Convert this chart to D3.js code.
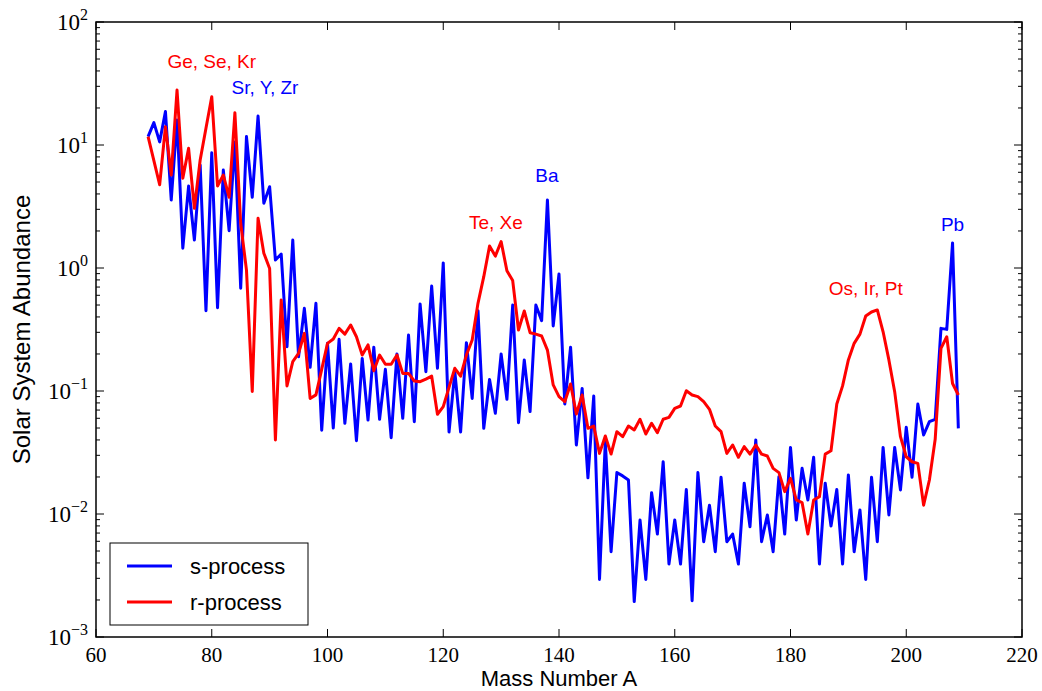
<!DOCTYPE html>
<html><head><meta charset="utf-8">
<script src="https://cdn.jsdelivr.net/npm/d3@7"></script>
<style>body{margin:0;background:#fff}</style>
</head><body><svg id="c" width="1042" height="691"></svg>
<script>
const massNumbers = [69,70,71,72,73,74,75,76,77,78,79,80,81,82,83,84,85,86,87,88,89,90,91,92,93,94,95,96,97,98,99,100,
101,102,103,104,105,106,107,108,109,110,111,112,113,114,115,116,117,118,119,120,121,122,123,124,125,126,127,128,129,130,
131,132,133,134,135,136,137,138,139,140,141,142,143,144,145,146,147,148,149,150,151,152,153,154,155,156,157,158,159,160,
161,162,163,164,165,166,167,168,169,170,171,172,173,174,175,176,177,178,179,180,181,182,183,184,185,186,187,188,189,190,
191,192,193,194,195,196,197,198,199,200,201,202,203,204,205,206,207,208,209];

const sProcess = [11.7,15.2,10.6,18.7,3.57,16.0,1.45,4.64,1.69,6.88,0.45,8.66,0.475,6.26,2.01,10.6,0.684,11.7,3.76,17.2,3.36,4.58,1.16,1.30,0.229,1.69,0.190,0.47,0.156,0.516,0.048,0.244,
0.050,0.263,0.0546,0.166,0.0394,0.184,0.058,0.227,0.0589,0.150,0.0417,0.200,0.060,0.285,0.0563,0.51,0.1435,0.714,0.153,1.10,0.0464,0.1435,0.0464,0.247,0.087,0.45,0.0497,0.124,0.0658,0.200,
0.0856,0.50,0.0553,0.179,0.068,0.50,0.373,3.57,0.338,0.894,0.0784,0.227,0.0364,0.105,0.0197,0.091,0.00294,0.0387,0.00494,0.0217,0.0204,0.0189,0.00194,0.00894,0.00294,0.0149,0.00687,0.0266,0.00392,0.00894,
0.00392,0.0158,0.00197,0.0217,0.00595,0.0118,0.00494,0.0199,0.00595,0.00687,0.00392,0.0178,0.00788,0.040,0.00595,0.00982,0.00494,0.0201,0.00687,0.0348,0.00894,0.0235,0.013,0.0289,0.00392,0.0178,0.00798,0.0158,0.00392,0.0208,
0.00494,0.0108,0.00294,0.0199,0.00595,0.0348,0.00982,0.0348,0.0157,0.0507,0.0199,0.0784,0.0439,0.0563,0.0589,0.323,0.317,1.6,0.0497];

const rProcess = [11.7,7.45,4.75,14.1,5.7,28,5.36,9.4,3.06,7.55,13.7,24.7,4.64,5.7,3.76,18.3,2.31,0.96,0.099,2.54,1.32,0.99,0.040,0.55,0.11,0.173,0.202,0.294,0.087,0.093,0.15,0.244,
0.265,0.323,0.29,0.344,0.276,0.196,0.237,0.146,0.196,0.165,0.165,0.196,0.139,0.139,0.1206,0.119,0.125,0.132,0.0646,0.0746,0.107,0.153,0.132,0.196,0.26,0.516,0.85,1.51,1.25,1.64,
0.95,0.79,0.313,0.447,0.298,0.29,0.28,0.215,0.112,0.090,0.0819,0.114,0.065,0.0928,0.0497,0.0519,0.0311,0.0431,0.0307,0.0467,0.0425,0.0519,0.0482,0.0589,0.0447,0.0546,0.0458,0.0589,0.0611,0.0723,
0.0755,0.1006,0.0928,0.090,0.0819,0.071,0.0519,0.0467,0.0311,0.0364,0.0289,0.0353,0.0307,0.0364,0.0307,0.0296,0.0235,0.0217,0.0152,0.0195,0.013,0.0124,0.00687,0.013,0.0138,0.0307,0.0327,0.0784,0.11,0.179,
0.244,0.29,0.407,0.439,0.456,0.303,0.179,0.0988,0.0425,0.0292,0.0266,0.0258,0.0118,0.0189,0.0405,0.222,0.276,0.115,0.0928];

const xTicks = [60,80,100,120,140,160,180,200,220];
const yTicks = [1e-3,1e-2,1e-1,1e0,1e1,1e2];
const yTickExponents = ["\u22123","\u22122","\u22121","0","1","2"];

const seriesNames = ["s-process","r-process"];
const seriesColors = ["#0000ff","#ff0000"];

const annotLabels = ["Ge, Se, Kr","Sr, Y, Zr","Ba","Te, Xe","Os, Ir, Pt","Pb"];
const annotA = [80.0, 89.2, 137.9, 129.1, 193.0, 208.0];
const annotValue = [42, 26, 5.0, 2.07, 0.60, 2.0];
const annotColors = ["#ff0000","#0000ff","#0000ff","#ff0000","#ff0000","#0000ff"];

const W = 1042, H = 691;
const L = 96, R = 1022, T = 22, B = 637;
const svg = d3.select("#c");

const x = d3.scaleLinear().domain([60,220]).range([L,R]);
const y = d3.scaleLog().domain([1e-3,1e2]).range([B,T]);

svg.append("defs").append("clipPath").attr("id","clip")
  .append("rect").attr("x",L).attr("y",T).attr("width",R-L).attr("height",B-T);

// lines
const series = [sProcess, rProcess];
const line = d3.line().x(d=>x(d[0])).y(d=>y(d[1]));
series.forEach((vals,i)=>{
  svg.append("path")
    .datum(massNumbers.map((a,j)=>[a, vals[j]]))
    .attr("d", line)
    .attr("fill","none")
    .attr("stroke", seriesColors[i])
    .attr("stroke-width", 3)
    .attr("stroke-linejoin","round")
    .attr("stroke-linecap","butt")
    .attr("clip-path","url(#clip)");
});

// annotations
annotLabels.forEach((t,i)=>{
  svg.append("text").attr("x", x(annotA[i])).attr("y", y(annotValue[i]))
    .attr("text-anchor","middle")
    .attr("font-family","'Liberation Sans', Arial, sans-serif")
    .attr("font-size", 19).attr("fill", annotColors[i]).text(t);
});

// frame
svg.append("rect").attr("x",L).attr("y",T).attr("width",R-L).attr("height",B-T)
  .attr("fill","none").attr("stroke","#000").attr("stroke-width",1.5);

const tickG = svg.append("g").attr("stroke","#000").attr("stroke-width",1);
// x ticks (inward, bottom and top)
xTicks.forEach(v=>{
  tickG.append("line").attr("x1",x(v)).attr("x2",x(v)).attr("y1",B).attr("y2",B-8);
  tickG.append("line").attr("x1",x(v)).attr("x2",x(v)).attr("y1",T).attr("y2",T+8);
});
// y major/minor ticks
yTicks.forEach((v,i)=>{
  tickG.append("line").attr("x1",L).attr("x2",L+8).attr("y1",y(v)).attr("y2",y(v));
  tickG.append("line").attr("x1",R).attr("x2",R-8).attr("y1",y(v)).attr("y2",y(v));
  if (i < yTicks.length-1) {
    for (let k=2;k<=9;k++){
      const m = v*k;
      tickG.append("line").attr("x1",L).attr("x2",L+4).attr("y1",y(m)).attr("y2",y(m));
      tickG.append("line").attr("x1",R).attr("x2",R-4).attr("y1",y(m)).attr("y2",y(m));
    }
  }
});

// x tick labels
xTicks.forEach(v=>{
  svg.append("text").attr("x",x(v)).attr("y",B+25)
    .attr("text-anchor","middle")
    .attr("font-family","'Liberation Serif', 'Times New Roman', serif")
    .attr("font-size",21).attr("fill","#000").text(v);
});
// y tick labels
yTicks.forEach((v,i)=>{
  const t = svg.append("text").attr("x",L-8).attr("y",y(v)+8)
    .attr("text-anchor","end")
    .attr("font-family","'Liberation Serif', 'Times New Roman', serif")
    .attr("font-size",23).attr("fill","#000");
  t.append("tspan").text("10");
  t.append("tspan").attr("dy",-10).attr("font-size",16).text(yTickExponents[i]);
});

// axis titles
svg.append("text").attr("x",(L+R)/2).attr("y",686)
  .attr("text-anchor","middle")
  .attr("font-family","'Liberation Sans', Arial, sans-serif")
  .attr("font-size",22).attr("fill","#000").text("Mass Number A");
svg.append("text").attr("transform",`translate(30,${(T+B)/2}) rotate(-90)`)
  .attr("text-anchor","middle")
  .attr("font-family","'Liberation Sans', Arial, sans-serif")
  .attr("font-size",24).attr("fill","#000").text("Solar System Abundance");

// legend
const lg = svg.append("g");
lg.append("rect").attr("x",110).attr("y",543).attr("width",198).attr("height",82)
  .attr("fill","#fff").attr("stroke","#000").attr("stroke-width",1);
seriesNames.forEach((n,i)=>{
  const yy = 566 + i*36;
  lg.append("line").attr("x1",127).attr("x2",172).attr("y1",yy).attr("y2",yy)
    .attr("stroke",seriesColors[i]).attr("stroke-width",3);
  lg.append("text").attr("x",190).attr("y",yy+8)
    .attr("font-family","'Liberation Sans', Arial, sans-serif")
    .attr("font-size",22).attr("fill","#000").text(n);
});
</script></body></html>
